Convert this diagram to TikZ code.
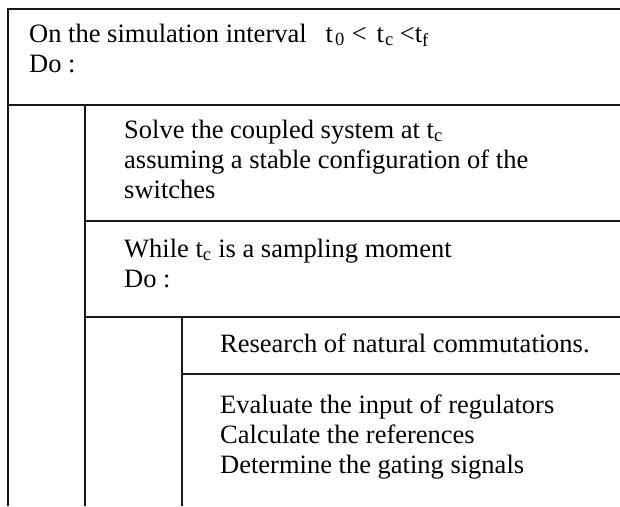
\documentclass[tikz,border=0pt]{standalone}
\usepackage{fontspec}
\setmainfont{Liberation Serif}
\begin{document}
\begin{tikzpicture}[x=1pt,y=-1pt,
  rule/.style={line width=2pt, draw=black!90},
  txt/.style={anchor=base west, inner sep=0pt, align=left,
    font=\fontsize{26.5}{30}\selectfont}]
\useasboundingbox (0,0) rectangle (620,506);
% frame lines
\draw[rule] (8,506) -- (8,9) -- (620,9);
\draw[rule] (8,105) -- (620,105);
\draw[rule] (85,105) -- (85,506);
\draw[rule] (85,221) -- (620,221);
\draw[rule] (85,317) -- (620,317);
\draw[rule] (182,317) -- (182,506);
\draw[rule] (182,374) -- (620,374);
% texts (base anchor = baseline of the last line)
\node[txt] (loop) at (29,72) {On the simulation interval\hspace{19pt}t\hspace{2pt}\textsubscript{0}\hspace{7pt}<\hspace{10pt}t\hspace{1pt}\textsubscript{c}\hspace{6pt}<t\textsubscript{f}\\Do :};
\node[txt] (solve) at (124,198) {Solve the coupled system at t\textsubscript{c}\\assuming a stable configuration of the\\switches};
\node[txt] (while) at (124,287) {While t\textsubscript{c} is a sampling moment\\Do :};
\node[txt] (research) at (220,352) {Research of natural commutations.};
\node[txt] (eval) at (220,473) {Evaluate the input of regulators\\Calculate the references\\Determine the gating signals};
\end{tikzpicture}
\end{document}
